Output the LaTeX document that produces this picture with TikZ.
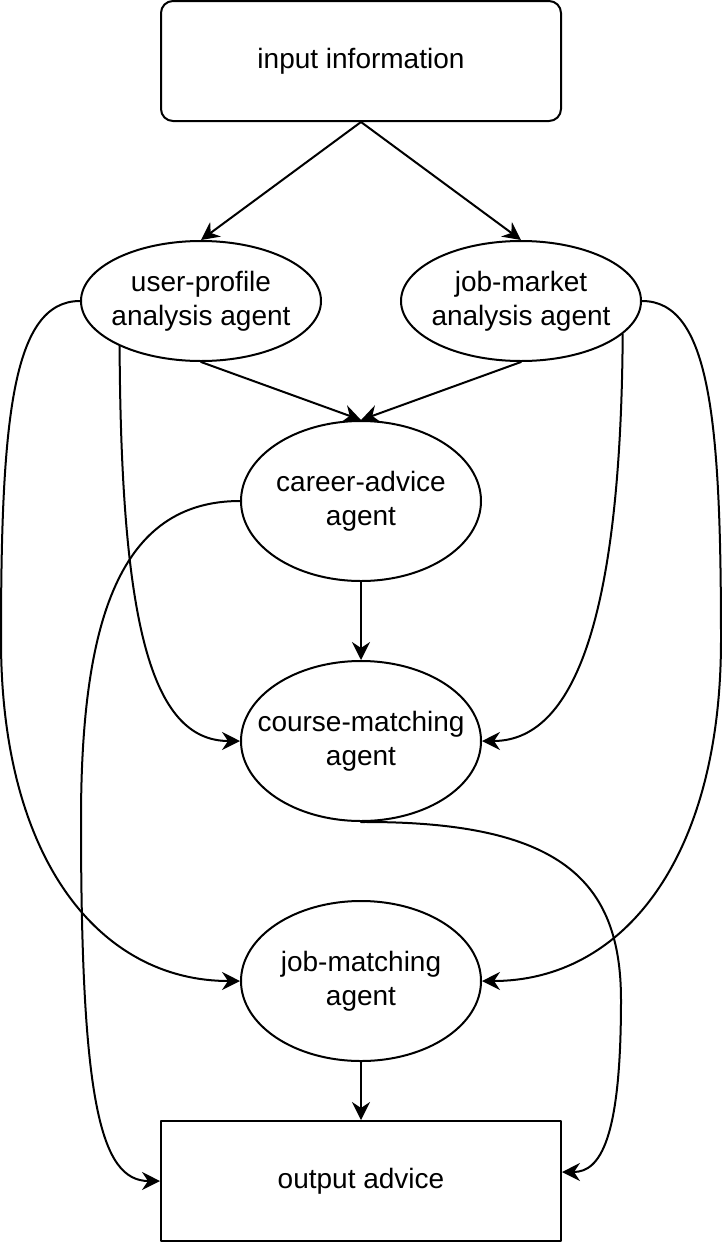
\documentclass[tikz,border=0pt]{standalone}
\usepackage{fontspec}
\setmainfont{Liberation Sans}
\usetikzlibrary{arrows.meta, positioning, shapes.geometric}

\begin{document}
\begin{tikzpicture}[x=0.5pt, y=-0.5pt, >={Stealth[length=9pt, width=9pt, inset=3pt]}, line cap=round, line join=round]
	
	\tikzset{
		base/.style={draw, line width=1pt, align=center, font=\fontsize{14pt}{16.8pt}\selectfont},
		iobox/.style={base, rectangle, minimum width=200pt, minimum height=60pt},
		agent/.style={base, ellipse, inner xsep=-10pt, inner ysep=0pt, minimum width=120pt, minimum height=60pt},
		bigagent/.style={agent, minimum height=80pt},
		flow/.style={line width=1pt, ->}
	}
	
	\useasboundingbox (0,0) rectangle (722,1242);
	
	% nodes
	\node[iobox, rounded corners=6pt] (inp) at (361,61) {input information};
	\node[agent] (userprof) at (201,301) {user-profile\\analysis agent};
	\node[agent] (jobmkt) at (521,301) {job-market\\analysis agent};
	\node[bigagent] (career) at (361,501) {career-advice\\agent};
	\node[bigagent] (course) at (361,741) {course-matching\\agent};
	\node[bigagent] (jobmatch) at (361,981) {job-matching\\agent};
	\node[iobox] (output) at (361,1181) {output advice};
	
	% straight edges
	\draw[flow] (inp.south) -- (userprof.north);
	\draw[flow] (inp.south) -- (jobmkt.north);
	\draw[flow] (userprof.south) -- (career.north);
	\draw[flow] (jobmkt.south) -- (career.north);
	\draw[flow] (career.south) -- (course.north);
	\draw[flow] (jobmatch.south) -- (output.north);
	
	% curved edges
	\draw[flow] (userprof.west) .. controls (12,301) and (1,420) .. (1,640)
		.. controls (1,860) and (100,981) .. (jobmatch.west);
	\draw[flow] (userprof.209) .. controls (121,620) and (150,741) .. (course.west);
	\draw[flow] (career.west) .. controls (120,501) and (81,620) .. (81,820)
		.. controls (81,1100) and (100,1181) .. (output.west);
	\draw[flow] (jobmkt.east) .. controls (710,301) and (721,420) .. (721,640)
		.. controls (721,860) and (622,981) .. (jobmatch.east);
	\draw[flow] (jobmkt.-18.4) .. controls (621,600) and (580,741) .. (course.east);
	\draw[flow] (course.south) .. controls (560,821) and (621,880) .. (621,1000)
		.. controls (621,1140) and (600,1172) .. ([yshift=4.5pt]output.east);
	
\end{tikzpicture}
\end{document}
